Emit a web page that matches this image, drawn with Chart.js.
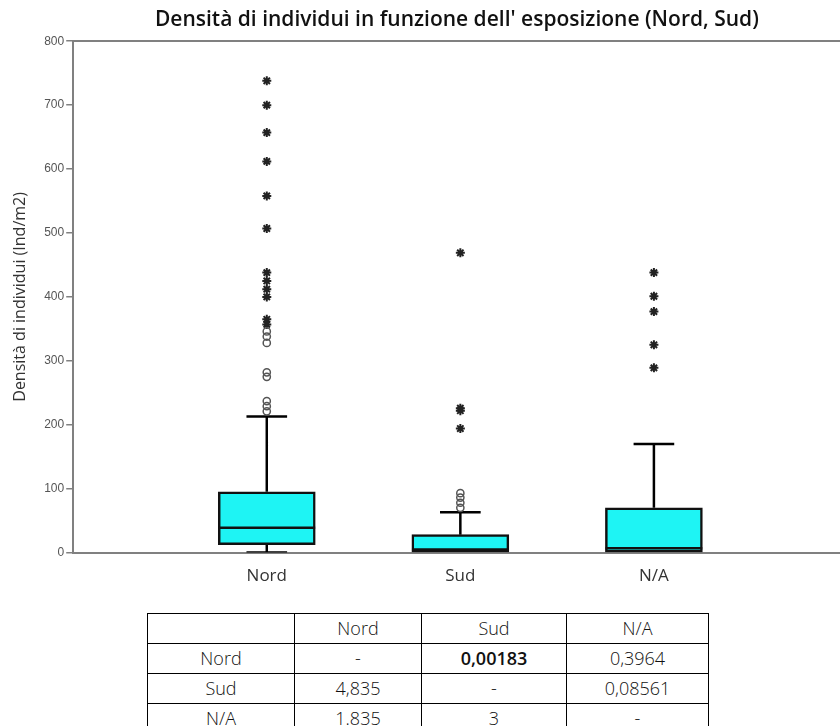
<!DOCTYPE html>
<html>
<head>
<meta charset="utf-8">
<script src="https://cdn.jsdelivr.net/npm/chart.js@4.4.1/dist/chart.umd.min.js"></script>
<style>
  html, body { margin: 0; padding: 0; background: #fff; overflow: hidden; }
  #wrap { position: absolute; left: 0; top: 0; width: 840px; height: 600px; overflow: hidden; }
  table.kw {
    position: absolute; left: 147px; top: 613px;
    border-collapse: collapse;
    font-family: "Open Sans", "Noto Sans", sans-serif; font-weight: 300;
    font-size: 18px; color: #111;
  }
  table.kw td { border: 1px solid #000; height: 29px; padding: 0; text-align: center; line-height: 29px; }
  table.kw td.b { font-weight: 600; }
</style>
</head>
<body>
<div id="wrap"><canvas id="c" width="847" height="600"></canvas></div>
<table class="kw" id="tbl"></table>
<script>
// ===== DATI =====
const categories = ["Nord", "Sud", "N/A"];
const whiskerLow = [0, 0, 0];
const q1 = [12.5, 0.5, 0.5];
const medians = [39, 5, 7];
const q3 = [95, 28, 70];
const whiskerHigh = [213, 63, 170];
// outlier (cerchi) e valori estremi (asterischi)
const mildOutliers = [
  [346, 338, 328, 282, 275, 237, 229, 221],
  [93, 86, 78, 70],
  []
];
const extremeOutliers = [
  [738, 700, 657, 612, 558, 507, 438, 425, 412, 400, 365, 357],
  [469, 226, 222, 194],
  [438, 401, 377, 325, 289]
];
const yTicks = [0, 100, 200, 300, 400, 500, 600, 700, 800];

// tabella (test a coppie)
const tableHeader = ["", "Nord", "Sud", "N/A"];
const tableRows = [
  ["Nord", "-", "0,00183", "0,3964"],
  ["Sud", "4,835", "-", "0,08561"],
  ["N/A", "1.835", "3", "-"]
];
const boldCells = ["0,00183"];

// ===== TABELLA =====
const colWidths = [147, 127, 145, 142];
const tbl = document.getElementById("tbl");
[tableHeader, ...tableRows].forEach(row => {
  const tr = document.createElement("tr");
  row.forEach((txt, i) => {
    const td = document.createElement("td");
    td.textContent = txt;
    td.style.width = (colWidths[i] - 1) + "px";
    if (boldCells.includes(txt)) td.className = "b";
    tr.appendChild(td);
  });
  tbl.appendChild(tr);
});

// ===== BOXPLOT =====
const BOX_HALF = 0.25;   // mezza larghezza scatola (unita asse x)
const CAP_HALF = 0.105;  // mezza larghezza baffi

const whiskerPts = [];
const medianPts = [];
categories.forEach((c, i) => {
  const x = i + 1;
  // baffo superiore
  whiskerPts.push({ x: x, y: q3[i] }, { x: x, y: whiskerHigh[i] }, { x: x, y: null });
  whiskerPts.push({ x: x - CAP_HALF, y: whiskerHigh[i] }, { x: x + CAP_HALF, y: whiskerHigh[i] }, { x: x, y: null });
  // baffo inferiore
  if (q1[i] - whiskerLow[i] > 2) {
    whiskerPts.push({ x: x, y: q1[i] }, { x: x, y: whiskerLow[i] }, { x: x, y: null });
    whiskerPts.push({ x: x - CAP_HALF, y: whiskerLow[i] }, { x: x + CAP_HALF, y: whiskerLow[i] }, { x: x, y: null });
  }
  medianPts.push({ x: x - BOX_HALF, y: medians[i] }, { x: x + BOX_HALF, y: medians[i] }, { x: x, y: null });
});

const circlePts = [];
const starPts = [];
categories.forEach((c, i) => {
  mildOutliers[i].forEach(v => circlePts.push({ x: i + 1, y: v }));
  extremeOutliers[i].forEach(v => starPts.push({ x: i + 1, y: v }));
});

const XMAX = 3.964;
const FONT = "'Open Sans', 'Noto Sans', sans-serif";

new Chart(document.getElementById("c"), {
  data: {
    datasets: [
      {
        type: "line",
        data: whiskerPts,
        borderColor: "#000",
        borderWidth: 2.5,
        pointRadius: 0,
        spanGaps: false,
        order: 3
      },
      {
        type: "bar",
        data: categories.map((c, i) => ({ x: i + 1, y: [q1[i], q3[i]] })),
        backgroundColor: "#1ef4f4",
        borderColor: "#111",
        borderWidth: 2.5,
        borderSkipped: false,
        barThickness: 97,
        order: 2
      },
      {
        type: "line",
        data: medianPts,
        borderColor: "#111",
        borderWidth: 2.5,
        pointRadius: 0,
        spanGaps: false,
        order: 1
      },
      {
        type: "scatter",
        data: circlePts,
        pointStyle: "circle",
        pointRadius: 3.6,
        borderColor: "#555",
        borderWidth: 1.5,
        backgroundColor: "rgba(255,255,255,0)",
        order: 0
      },
      {
        type: "scatter",
        data: starPts,
        pointStyle: "star",
        pointRadius: 4.5,
        borderColor: "#222",
        borderWidth: 2,
        order: 0
      }
    ]
  },
  options: {
    responsive: false,
    animation: false,
    layout: { padding: { left: 11, right: 0, top: 0, bottom: 1 } },
    plugins: {
      legend: { display: false },
      tooltip: { enabled: false },
      title: {
        display: true,
        fullSize: false,
        text: "Densità di individui in funzione dell' esposizione (Nord, Sud)",
        color: "#111",
        font: { family: FONT, size: 21, weight: "600" },
        padding: { top: 7, bottom: 9 }
      }
    },
    scales: {
      x: {
        type: "linear",
        offset: false,
        min: 0,
        max: XMAX,
        afterBuildTicks: axis => { axis.ticks = categories.map((c, i) => ({ value: i + 1 })); },
        ticks: {
          callback: v => categories[v - 1],
          color: "#333",
          padding: 13,
          font: { family: FONT, size: 17 }
        },
        grid: { display: false, drawTicks: false },
        border: { color: "#808080", width: 2 }
      },
      xTop: {
        type: "linear",
        position: "top",
        offset: false,
        min: 0,
        max: XMAX,
        ticks: { display: false },
        grid: { display: false, drawTicks: false },
        border: { color: "#808080", width: 2 }
      },
      y: {
        min: 0,
        max: 800,
        afterBuildTicks: axis => { axis.ticks = yTicks.map(v => ({ value: v })); },
        ticks: {
          color: "#555",
          padding: 2,
          font: { family: "'Liberation Sans', Arial, sans-serif", size: 12 }
        },
        grid: { drawOnChartArea: false, drawTicks: true, tickLength: 7, color: "#808080", lineWidth: 1.5 },
        border: { color: "#808080", width: 2 },
        title: {
          display: true,
          text: "Densità di individui (Ind/m2)",
          color: "#333",
          font: { family: FONT, size: 16 },
          padding: { top: 0, bottom: 12 }
        }
      }
    }
  }
});
</script>
</body>
</html>
